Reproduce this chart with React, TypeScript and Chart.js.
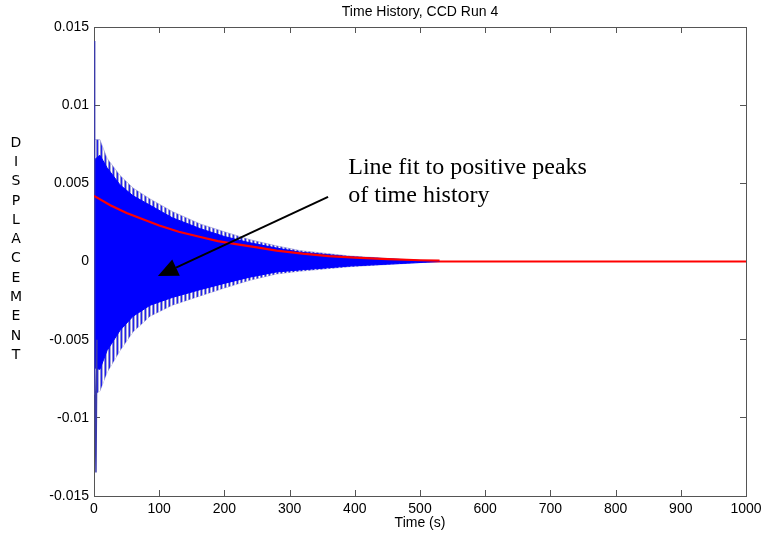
import React, { useEffect, useRef } from "react";
import { Chart, registerables } from "chart.js";

Chart.register(...registerables);

const TITLE = "Time History, CCD Run 4";
const X_TITLE = "Time (s)";
const Y_TITLE = "DISPLACEMENT";
const NOTE_LINES = ["Line fit to positive peaks", "of time history"];

const X_TICKS = [0, 100, 200, 300, 400, 500, 600, 700, 800, 900, 1000];
const Y_TICKS = [-0.015, -0.01, -0.005, 0, 0.005, 0.01, 0.015];
const Y_TICK_LABELS = ["-0.015", "-0.01", "-0.005", "0", "0.005", "0.01", "0.015"];

// envelope of the blue time history
const ENV_TIME = [0.5, 9, 20, 40, 60, 86, 120, 163, 200, 239, 280, 316, 393, 469, 530];
const PALE_UPPER = [0.0078, 0.0078, 0.0066, 0.0055, 0.0047, 0.004, 0.0032, 0.0024, 0.0019, 0.0014, 0.001, 0.0007, 0.00035, 0.00015, 0];
const PALE_LOWER = [-0.0085, -0.0083, -0.0071, -0.0057, -0.0045, -0.0035, -0.0028, -0.0022, -0.0017, -0.0012, -0.0008, -0.00062, -0.00033, -0.00015, 0];
const BLUE_UPPER = [0.0065, 0.0068, 0.006, 0.0049, 0.0042, 0.0036, 0.0028, 0.0021, 0.0016, 0.0012, 0.00086, 0.0006, 0.0003, 0.00013, 0];
const BLUE_LOWER = [-0.0068, -0.0069, -0.0057, -0.0044, -0.0035, -0.0028, -0.0023, -0.0018, -0.0014, -0.001, -0.00067, -0.00054, -0.00029, -0.00013, 0];

// initial spikes
const SPIKE_TIME = [0, 0.4, 1.5, 3, 4.5];
const SPIKE_VALUES = [0, 0.0141, -0.006, -0.0135, -0.005];

// red fit line
const FIT_TIME = [0, 25, 50, 75, 100, 130, 160, 190, 220, 250, 280, 320, 360, 400, 450, 500, 530];
const FIT_VALUES = [0.0042, 0.0036, 0.0031, 0.0027, 0.0023, 0.0019, 0.0016, 0.0013, 0.0011, 0.0009, 0.0007, 0.0005, 0.00035, 0.00025, 0.00015, 0.00008, 0.00005];

const ZERO_TIME = [0, 1000];
const ZERO_VALUES = [0, 0];

// arrow annotation in data units: [time, value]
const ARROW_TAIL = [359, 0.00413];
const ARROW_TIP = [98, -0.00093];
const NOTE_POS = [390, 0.0056];

const pts = (xs: number[], ys: number[]) => xs.map((x, i) => ({ x, y: ys[i] }));

const SANS = "'Liberation Sans', Arial, sans-serif";

const framePlugin = {
  id: "frame",
  beforeDatasetsDraw(chart: any) {
    const { ctx, chartArea: a, scales } = chart;
    ctx.save();
    ctx.strokeStyle = "#555";
    ctx.lineWidth = 1;
    ctx.strokeRect(Math.round(a.left) + 0.5, Math.round(a.top) + 0.5, Math.round(a.right - a.left), Math.round(a.bottom - a.top));
    const tl = 6;
    ctx.beginPath();
    X_TICKS.forEach((v) => {
      const x = Math.round(scales.x.getPixelForValue(v)) + 0.5;
      ctx.moveTo(x, a.bottom);
      ctx.lineTo(x, a.bottom - tl);
      ctx.moveTo(x, a.top);
      ctx.lineTo(x, a.top + tl);
    });
    Y_TICKS.forEach((v) => {
      const y = Math.floor(scales.y.getPixelForValue(v)) + 0.5;
      ctx.moveTo(a.left, y);
      ctx.lineTo(a.left + tl, y);
      ctx.moveTo(a.right, y);
      ctx.lineTo(a.right - tl, y);
    });
    ctx.stroke();
    ctx.restore();
  },
  afterDatasetsDraw(chart: any) {
    const { ctx, chartArea: a, scales } = chart;
    ctx.save();
    ctx.fillStyle = "#000";
    ctx.font = `14px ${SANS}`;
    ctx.textAlign = "center";
    ctx.textBaseline = "middle";
    ctx.fillText(TITLE, (a.left + a.right) / 2, 12);
    ctx.fillText(X_TITLE, (a.left + a.right) / 2, 523);
    ctx.font = `14px 'DejaVu Sans', Verdana, sans-serif`;
    Y_TITLE.split("").forEach((ch, i) => {
      ctx.fillText(ch, 16, 143 + i * 19.3);
    });
    // arrow
    const x1 = scales.x.getPixelForValue(ARROW_TAIL[0]);
    const y1 = scales.y.getPixelForValue(ARROW_TAIL[1]);
    const x2 = scales.x.getPixelForValue(ARROW_TIP[0]);
    const y2 = scales.y.getPixelForValue(ARROW_TIP[1]);
    const ang = Math.atan2(y2 - y1, x2 - x1);
    const hl = 20;
    const hw = 9;
    const bx = x2 - hl * Math.cos(ang);
    const by = y2 - hl * Math.sin(ang);
    ctx.strokeStyle = "#000";
    ctx.lineWidth = 2;
    ctx.beginPath();
    ctx.moveTo(x1, y1);
    ctx.lineTo(bx, by);
    ctx.stroke();
    ctx.fillStyle = "#000";
    ctx.beginPath();
    ctx.moveTo(x2, y2);
    ctx.lineTo(bx + hw * Math.sin(ang), by - hw * Math.cos(ang));
    ctx.lineTo(bx - hw * Math.sin(ang), by + hw * Math.cos(ang));
    ctx.closePath();
    ctx.fill();
    // note text
    ctx.font = `24px 'Liberation Serif', 'Times New Roman', serif`;
    ctx.textAlign = "left";
    ctx.textBaseline = "alphabetic";
    const nx = scales.x.getPixelForValue(NOTE_POS[0]);
    const ny = scales.y.getPixelForValue(NOTE_POS[1]);
    NOTE_LINES.forEach((t, i) => ctx.fillText(t, nx, ny + i * 28));
    ctx.restore();
  },
};

function makeStripePattern(): CanvasPattern | string {
  const c = document.createElement("canvas");
  c.width = 4;
  c.height = 1;
  const g = c.getContext("2d");
  if (!g) return "#9a9ad6";
  const cols = ["#8c8cd2", "#2020f0", "#a8a8dc", "#ffffff"];
  cols.forEach((col, i) => {
    g.fillStyle = col;
    g.fillRect(i, 0, 1, 1);
  });
  return g.createPattern(c, "repeat") || "#9a9ad6";
}

export default function App() {
  const ref = useRef<HTMLCanvasElement | null>(null);
  useEffect(() => {
    if (!ref.current) return;
    const stripes = makeStripePattern();
    const line = (data: any, color: string, width: number, fill: any = false, bg?: any) => ({
      data,
      borderColor: color,
      backgroundColor: bg || color,
      borderWidth: width,
      pointRadius: 0,
      tension: 0,
      fill,
    });
    const chart = new Chart(ref.current, {
      type: "line",
      data: {
        datasets: [
          line(pts(FIT_TIME, FIT_VALUES), "#ff0000", 2.2),
          line(pts(SPIKE_TIME, SPIKE_VALUES), "#3a3aa8", 1.5),
          line(pts(ENV_TIME, BLUE_UPPER), "#0000ff", 1, "+1", "#0000ff"),
          line(pts(ENV_TIME, BLUE_LOWER), "#0000ff", 1),
          line(pts(ENV_TIME, PALE_UPPER), "rgba(154,154,214,0.6)", 1, "+1", stripes),
          line(pts(ENV_TIME, PALE_LOWER), "rgba(154,154,214,0.6)", 1),
          line(pts(ZERO_TIME, ZERO_VALUES), "#ff0000", 2),
        ] as any,
      },
      options: {
        animation: false,
        responsive: false,
        devicePixelRatio: 1,
        layout: { padding: { top: 27, right: 19, bottom: 0, left: 0 } },
        plugins: { legend: { display: false }, tooltip: { enabled: false }, title: { display: false } },
        scales: {
          x: {
            type: "linear",
            min: 0,
            max: 1000,
            afterBuildTicks: (s: any) => {
              s.ticks = X_TICKS.map((v) => ({ value: v }));
            },
            afterFit: (s: any) => {
              s.height = 37;
              s.paddingLeft = 0;
              s.paddingRight = 0;
            },
            grid: { display: false, drawTicks: false },
            border: { display: false },
            ticks: { color: "#000", font: { family: SANS, size: 14 }, padding: 5, maxRotation: 0, autoSkip: false, callback: (v: any) => String(v) },
          },
          y: {
            type: "linear",
            min: -0.015,
            max: 0.015,
            afterBuildTicks: (s: any) => {
              s.ticks = Y_TICKS.map((v) => ({ value: v }));
            },
            afterFit: (s: any) => {
              s.width = 94;
              s.paddingTop = 0;
              s.paddingBottom = 0;
            },
            grid: { display: false, drawTicks: false },
            border: { display: false },
            ticks: {
              color: "#000",
              font: { family: SANS, size: 14 },
              padding: 5,
              autoSkip: false,
              callback: (v: any) => {
                const i = Y_TICKS.findIndex((t) => Math.abs(t - v) < 1e-9);
                return i >= 0 ? Y_TICK_LABELS[i] : "";
              },
            },
          },
        },
      } as any,
      plugins: [framePlugin],
    });
    return () => chart.destroy();
  }, []);
  return (
    <div style={{ position: "absolute", left: 0, top: 0, width: 765, height: 533, background: "#fff" }}>
      <canvas ref={ref} width={765} height={533} style={{ width: 765, height: 533 }} />
    </div>
  );
}
